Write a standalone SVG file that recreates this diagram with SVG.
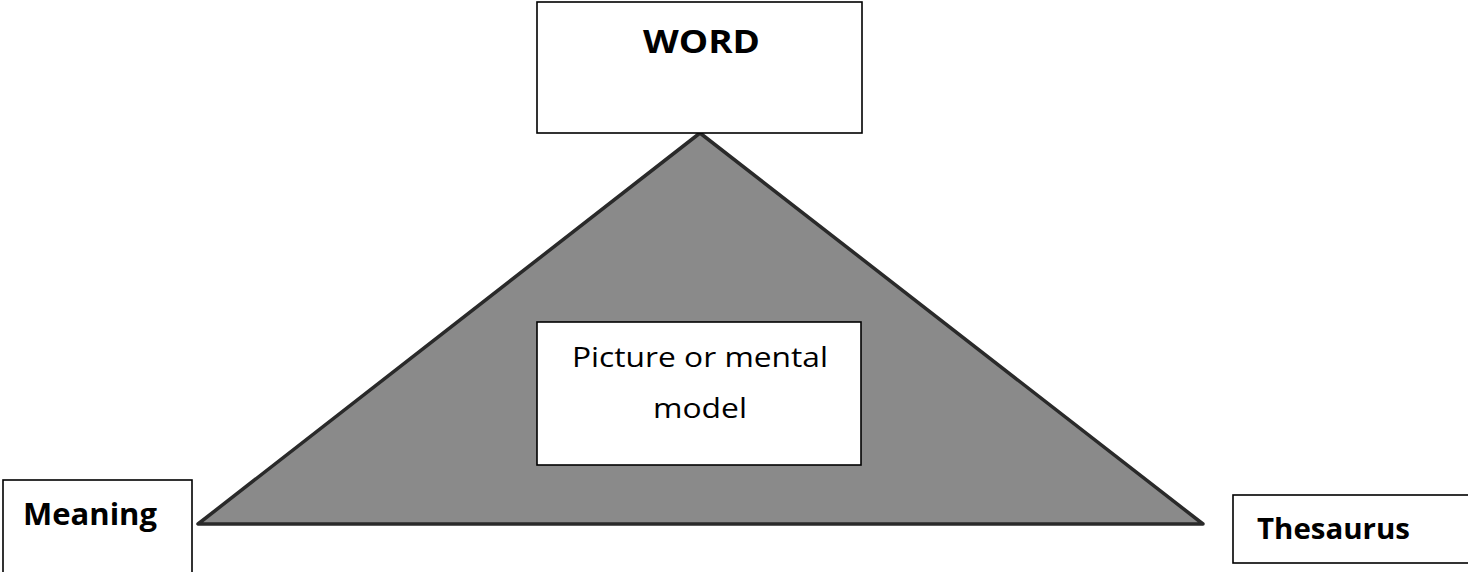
<svg xmlns="http://www.w3.org/2000/svg" width="1468" height="572" viewBox="0 0 1468 572">
<style>
.box{fill:#fff;stroke:#000;stroke-width:1.6}
.b{font-family:"Open Sans","Liberation Sans",sans-serif;font-weight:700;fill:#000}
.r{font-family:"Open Sans","Liberation Sans",sans-serif;font-weight:400;fill:#000}
</style>
<rect width="1468" height="572" fill="#fff"/>
<g id="triangle">
<polygon points="700,133 198,524 1203,524" fill="#8a8a8a" stroke="#2a2a2a" stroke-width="3.5" stroke-linejoin="round"/>
</g>
<g id="word">
<rect class="box" x="537" y="2" width="325" height="131"/>
<text class="b" x="643" y="53" font-size="32" textLength="117" lengthAdjust="spacingAndGlyphs">WORD</text>
</g>
<g id="picture">
<rect class="box" x="537" y="322" width="324" height="143"/>
<text class="r" x="572" y="367" font-size="28" textLength="256" lengthAdjust="spacingAndGlyphs">Picture or mental</text>
<text class="r" x="653" y="418" font-size="28" textLength="94" lengthAdjust="spacingAndGlyphs">model</text>
</g>
<g id="meaning">
<rect class="box" x="3" y="480" width="189" height="100"/>
<text class="b" x="23" y="525" font-size="30" textLength="134" lengthAdjust="spacingAndGlyphs">Meaning</text>
</g>
<g id="thesaurus">
<rect class="box" x="1233" y="495" width="245" height="68"/>
<text class="b" x="1257" y="539" font-size="29" textLength="153" lengthAdjust="spacingAndGlyphs">Thesaurus</text>
</g>
</svg>
